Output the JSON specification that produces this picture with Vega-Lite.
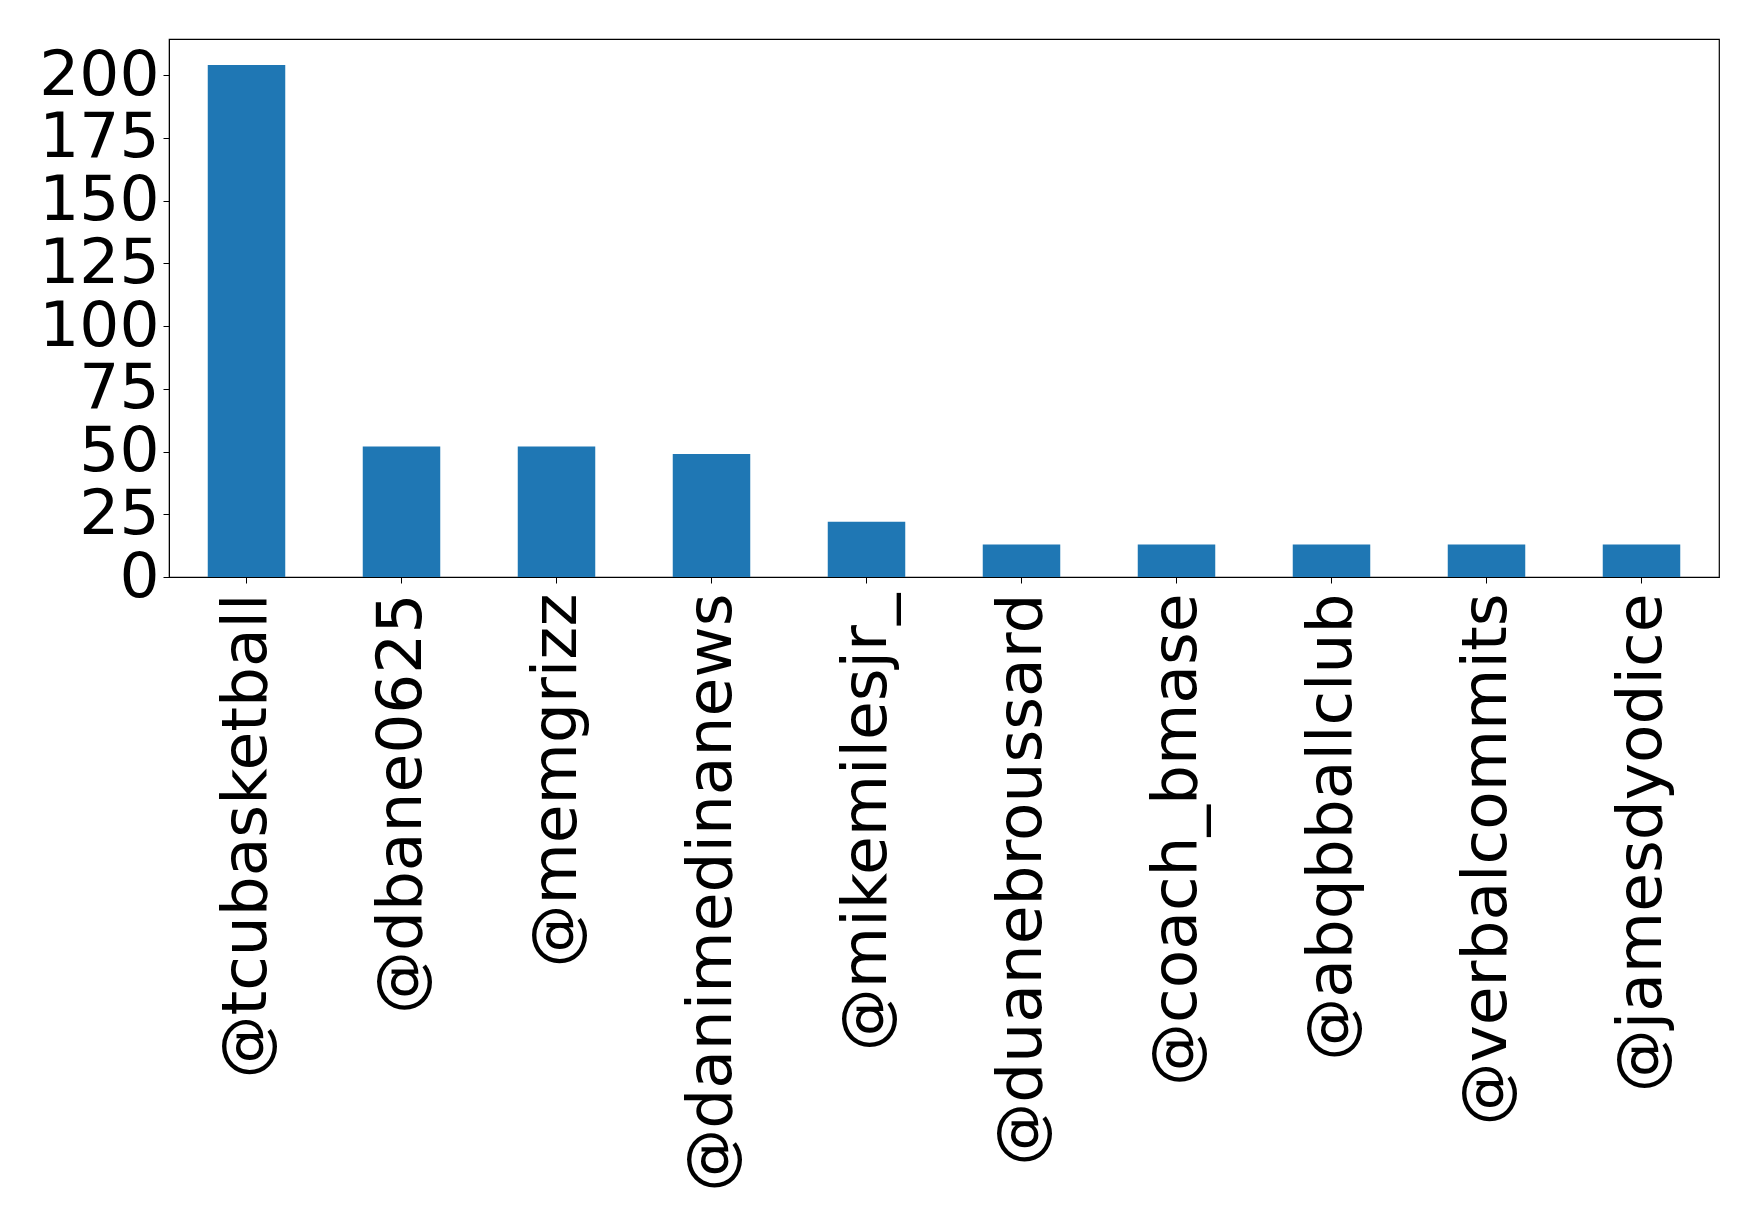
{
  "$schema": "https://vega.github.io/schema/vega-lite/v6.json",
  "autosize": {"type": "none"},
  "padding": {"left": 169, "top": 39, "right": 39, "bottom": 644},
  "width": 1550,
  "height": 538,
  "background": "white",
  "config": {
    "view": {"stroke": "black", "strokeWidth": 1.2},
    "axis": {"labelFont": "DejaVu Sans", "labelFontSize": 63, "labelColor": "black", "domainColor": "black", "tickColor": "black", "tickSize": 6, "grid": false, "title": null, "labelOverlap": false}
  },
  "data": {
    "values": [
      {"user": "@tcubasketball", "count": 204},
      {"user": "@dbane0625", "count": 52},
      {"user": "@memgrizz", "count": 52},
      {"user": "@danimedinanews", "count": 49},
      {"user": "@mikemilesjr_", "count": 22},
      {"user": "@duanebroussard", "count": 13},
      {"user": "@coach_bmase", "count": 13},
      {"user": "@abqbballclub", "count": 13},
      {"user": "@verbalcommits", "count": 13},
      {"user": "@jamesdyodice", "count": 13}
    ]
  },
  "mark": {"type": "bar", "color": "#1f77b4"},
  "encoding": {
    "x": {
      "field": "user", "type": "nominal", "sort": null,
      "scale": {"paddingInner": 0.5, "paddingOuter": 0.25},
      "axis": {"labelAngle": -90, "labelPadding": 10, "labelLimit": 0, "labelOverlap": false}
    },
    "y": {
      "field": "count", "type": "quantitative",
      "scale": {"domain": [0, 214.4], "nice": false, "zero": true},
      "axis": {"values": [0, 25, 50, 75, 100, 125, 150, 175, 200], "labelPadding": 4, "labelBaseline": "middle", "labelOverlap": false}
    }
  }
}
